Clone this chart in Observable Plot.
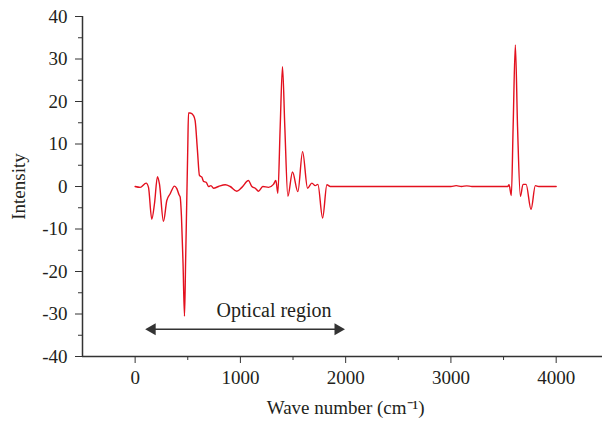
<!DOCTYPE html>
<html>
<head>
<meta charset="utf-8">
<script src="https://cdn.jsdelivr.net/npm/d3@7"></script>
<script src="https://cdn.jsdelivr.net/npm/@observablehq/plot@0.6"></script>
<style>
  html, body { margin: 0; padding: 0; background: #fff; }
</style>
</head>
<body>
<div id="chart"></div>
<script>
const waveNumber = [0,48,105,127,158,184,212,231,269,301,333,374,396,418,428,440,455,469,480,490,500,507,523,555,570,592,611,634,650,675,697,720,745,792,856,903,966,1014,1077,1109,1141,1172,1213,1267,1314,1337,1356,1378,1400,1422,1451,1495,1546,1591,1638,1679,1711,1736,1781,1822,1854,2500,3000,3050,3100,3150,3200,3540,3552,3574,3591,3612,3633,3660,3685,3714,3761,3802,3834,4000];
const intensity  = [0,-0.2,0.8,-0.2,-7.7,-4,2.3,0.6,-8.2,-3.3,-1.7,0.1,-0.5,-2,-2.5,-7,-18,-30.5,-17,-4,9,17.3,17.3,16.7,15.5,8.5,2.6,2.2,1.2,1,0,0.2,-0.4,0,0.4,0,-1.1,-0.2,1.4,0,-0.4,-1.1,0,-0.2,0.5,1.4,-1.6,14,28.2,14,-2.3,3.4,-1.2,8.2,-0.4,0.8,0.2,0.5,-7.4,0.4,0,0,0,0.2,0,0.15,0,0,0.4,-2.1,14,33.3,14,-2.3,0.5,0.5,-5.4,0.2,0,0];

const xMajorTicks = [0,1000,2000,3000,4000];
const xMinorTicks = [500,1500,2500,3500];
const yMajorTicks = [-40,-30,-20,-10,0,10,20,30,40];
const yMinorTicks = [-35,-25,-15,-5,5,15,25,35];

const arrowStart = 124, arrowEnd = 1965, arrowLevel = -33.6;
const regionLabel = "Optical region";
const regionLabelX = 1320, regionLabelY = -30.6;

const data = waveNumber.map((x, i) => ({x, y: intensity[i]}));
const axisColor = "#333";
const textColor = "#231f20";
const serif = "Liberation Serif";

const chart = Plot.plot({
  width: 602,
  height: 421,
  marginLeft: 82,
  marginRight: 0,
  marginTop: 16,
  marginBottom: 65,
  style: {fontFamily: serif, fontSize: "19px", color: textColor, background: "#fff"},
  x: {domain: [-500, 4440]},
  y: {domain: [-40, 40]},
  marks: [
    Plot.axisX({ticks: xMajorTicks, tickSize: 7, text: null, label: null, stroke: axisColor}),
    Plot.axisX({ticks: xMinorTicks, tickSize: 4, text: null, label: null, stroke: axisColor}),
    Plot.axisY({ticks: yMajorTicks, tickSize: 7, text: null, label: null, stroke: axisColor}),
    Plot.axisY({ticks: yMinorTicks, tickSize: 4, text: null, label: null, stroke: axisColor}),
    Plot.text(xMajorTicks, {x: d => d, frameAnchor: "bottom", text: d => String(d), textAnchor: "middle", lineAnchor: "top", dy: 14, fontSize: 19, fontFamily: serif, fill: textColor}),
    Plot.text(yMajorTicks, {y: d => d, frameAnchor: "left", text: d => String(d), textAnchor: "end", lineAnchor: "middle", dx: -15, fontSize: 19, fontFamily: serif, fill: textColor}),
    Plot.ruleX([-500], {stroke: axisColor, strokeWidth: 1.5}),
    Plot.ruleY([-40], {stroke: axisColor, strokeWidth: 1.5}),
    Plot.line(data, {x: "x", y: "y", stroke: "#e3101e", strokeWidth: 1.4, curve: "monotone-x"}),
    Plot.link([{x1: arrowStart, x2: arrowEnd, y: arrowLevel}], {x1: "x1", x2: "x2", y1: "y", y2: "y", stroke: axisColor, strokeWidth: 1.5}),
    Plot.dot([{x: arrowStart, y: arrowLevel}], {x: "x", y: "y", symbol: "triangle", r: 4.5, rotate: -90, fill: axisColor, stroke: null, dx: 4}),
    Plot.dot([{x: arrowEnd, y: arrowLevel}], {x: "x", y: "y", symbol: "triangle", r: 4.5, rotate: 90, fill: axisColor, stroke: null, dx: -4}),
    Plot.text([regionLabel], {x: regionLabelX, y: regionLabelY, text: d => d, textAnchor: "middle", lineAnchor: "bottom", fontSize: 20, fontFamily: serif, fill: textColor}),
    Plot.text(["Intensity"], {frameAnchor: "left", y: 0, text: d => d, rotate: -90, dx: -64, textAnchor: "middle", lineAnchor: "middle", fontSize: 19, fontFamily: serif, fill: textColor}),
    Plot.text(["Wave number (cm⁻¹)"], {x: 2000, frameAnchor: "bottom", text: d => d, textAnchor: "middle", lineAnchor: "bottom", dy: 57, fontSize: 19, fontFamily: serif, fill: textColor})
  ]
});
document.getElementById("chart").appendChild(chart);
</script>
</body>
</html>
